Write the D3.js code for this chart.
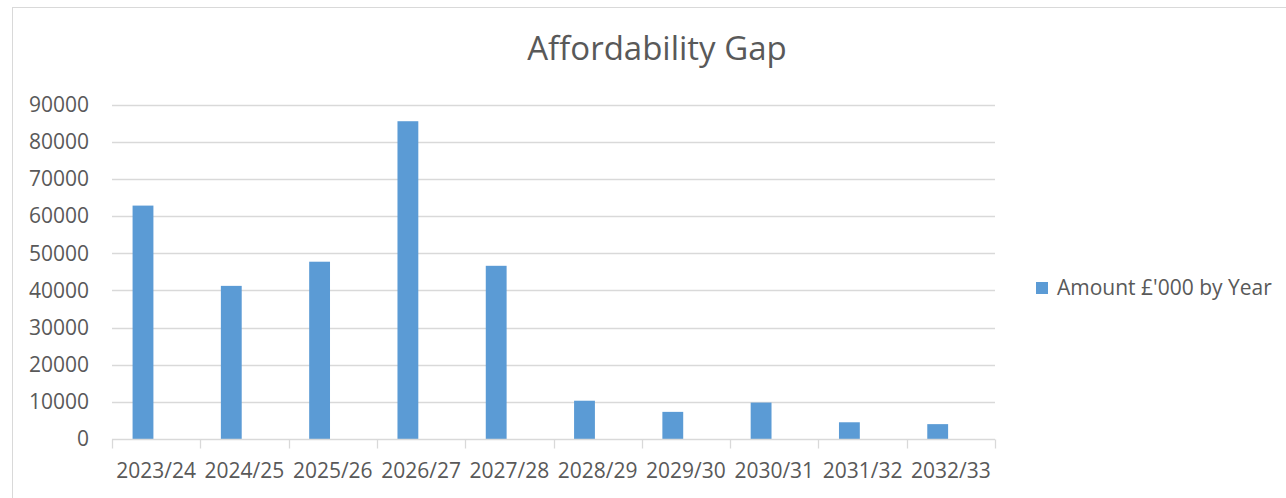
<!DOCTYPE html>
<html>
<head>
<meta charset="utf-8">
<script src="https://cdn.jsdelivr.net/npm/d3@7"></script>
<style>
  body { margin: 0; background: #fff; }
  text { font-family: "Open Sans", sans-serif; fill: #595959; }
</style>
</head>
<body>
<svg id="chart" width="1286" height="498"></svg>
<script>
// data
var years = ["2023/24","2024/25","2025/26","2026/27","2027/28","2028/29","2029/30","2030/31","2031/32","2032/33"]
var amounts = [62800, 41200, 47700, 85500, 46600, 10300, 7300, 9800, 4500, 4000]
var yTicks = [0,10000,20000,30000,40000,50000,60000,70000,80000,90000]
var seriesName = "Amount £'000 by Year"
var title = "Affordability Gap"

var svg = d3.select("#chart")
var plot = { left: 112, right: 995, top: 104.5, bottom: 439 }

// chart frame (runs off right/bottom edge like the screenshot)
svg.append("rect")
  .attr("x", 12.5).attr("y", 7.5)
  .attr("width", 1400).attr("height", 600)
  .attr("fill", "none").attr("stroke", "#d9d9d9")

var x = d3.scaleBand().domain(years).range([plot.left, plot.right]).padding(0)
var y = d3.scaleLinear().domain([0, 90000]).range([plot.bottom, plot.top])

// gridlines
svg.append("g")
  .selectAll("line")
  .data(yTicks.filter(d => d > 0))
  .join("line")
  .attr("x1", plot.left).attr("x2", plot.right)
  .attr("y1", d => Math.round(y(d)) + 0.5).attr("y2", d => Math.round(y(d)) + 0.5)
  .attr("stroke", "#d9d9d9").attr("stroke-width", 1.3)

// y labels
svg.append("g")
  .selectAll("text")
  .data(yTicks)
  .join("text")
  .attr("x", 89)
  .attr("y", d => y(d))
  .attr("dy", "0.35em")
  .attr("text-anchor", "end")
  .style("font-size", "21px")
  .text(d => d)

// bars (sit left of category centre, as in the excel clustered layout)
svg.append("g")
  .selectAll("rect")
  .data(years.map((c, i) => ({ cat: c, v: amounts[i] })))
  .join("rect")
  .attr("x", d => x(d.cat) + x.bandwidth() * 0.233)
  .attr("width", x.bandwidth() * 0.236)
  .attr("y", d => y(d.v))
  .attr("height", d => y(0) - y(d.v))
  .attr("fill", "#5b9bd5")

// x axis
var xAxis = svg.append("g").attr("transform", "translate(0," + (Math.round(plot.bottom) + 0.5) + ")")
xAxis.append("line")
  .attr("x1", plot.left).attr("x2", plot.right)
  .attr("stroke", "#d9d9d9").attr("stroke-width", 1.3)
xAxis.selectAll("line.tick")
  .data(years.concat([null]))
  .join("line")
  .attr("class", "tick")
  .attr("x1", (d, i) => Math.round(plot.left + i * x.step()) + 0.5)
  .attr("x2", (d, i) => Math.round(plot.left + i * x.step()) + 0.5)
  .attr("y1", 0).attr("y2", 9)
  .attr("stroke", "#d9d9d9").attr("stroke-width", 1.3)
xAxis.selectAll("text")
  .data(years)
  .join("text")
  .attr("x", d => x(d) + x.bandwidth() / 2)
  .attr("y", 38)
  .attr("text-anchor", "middle")
  .style("font-size", "21px")
  .text(d => d)

// title
svg.append("text")
  .attr("x", 657).attr("y", 60)
  .attr("text-anchor", "middle")
  .style("font-size", "33px")
  .text(title)

// legend
var lg = svg.append("g").attr("transform", "translate(1036,288)")
lg.append("rect")
  .attr("x", 0).attr("y", -6).attr("width", 12).attr("height", 12)
  .attr("fill", "#5b9bd5")
lg.append("text")
  .attr("x", 21).attr("y", 0).attr("dy", "0.35em")
  .style("font-size", "21px")
  .text(seriesName)
</script>
</body>
</html>
